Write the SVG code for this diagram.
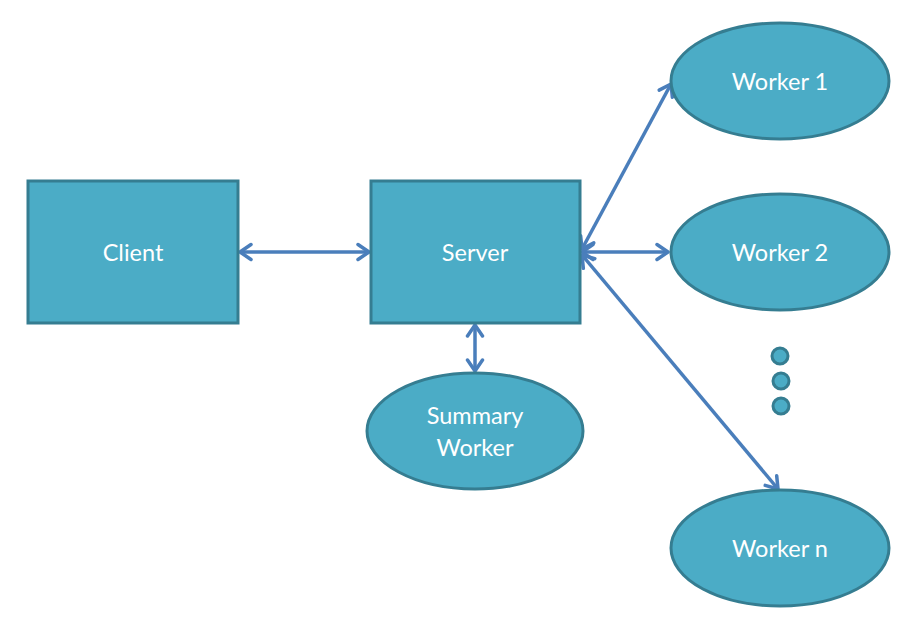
<svg xmlns="http://www.w3.org/2000/svg" width="914" height="624" viewBox="0 0 914 624">
<defs>
<style>
.n{fill:#4bacc6;stroke:#357d91;stroke-width:3}
.t{fill:#fff;font-family:Lato,"Open Sans",sans-serif;font-size:23.5px;text-anchor:middle;dominant-baseline:central}
.c{stroke:#4a7ebb;stroke-width:3.5;fill:none;marker-start:url(#a);marker-end:url(#a)}
</style>
<marker id="a" viewBox="0 0 16 20" refX="14" refY="10" markerWidth="16" markerHeight="20" markerUnits="userSpaceOnUse" orient="auto-start-reverse">
<path d="M3,2.5 L14,10 L3,17.5" fill="none" stroke="#4a7ebb" stroke-width="3.5" stroke-linecap="round" stroke-linejoin="round"/>
</marker>
</defs>
<rect width="914" height="624" fill="#fff"/>
<g id="connectors">
<line class="c" x1="240" y1="252" x2="369" y2="252"/>
<line class="c" x1="582" y1="249" x2="671" y2="84"/>
<line class="c" x1="582" y1="252" x2="668" y2="252"/>
<line class="c" x1="582" y1="255" x2="778" y2="489"/>
<line class="c" x1="475" y1="325" x2="475" y2="371"/>
</g>
<g id="client"><rect class="n" x="28" y="181" width="210" height="142"/><text class="t" x="133" y="252">Client</text></g>
<g id="server"><rect class="n" x="371" y="181" width="209" height="142"/><text class="t" x="475" y="252">Server</text></g>
<g id="worker1"><ellipse class="n" cx="780" cy="81" rx="109" ry="58"/><text class="t" x="780" y="81">Worker 1</text></g>
<g id="worker2"><ellipse class="n" cx="780" cy="252" rx="109" ry="58"/><text class="t" x="780" y="252">Worker 2</text></g>
<g id="workern"><ellipse class="n" cx="780" cy="548" rx="109" ry="58"/><text class="t" x="780" y="548">Worker n</text></g>
<g id="summary"><ellipse class="n" cx="475" cy="431" rx="108" ry="58"/><text class="t" x="475" y="415">Summary</text><text class="t" x="475" y="447">Worker</text></g>
<g id="dots">
<circle class="n" cx="780" cy="356" r="8"/>
<circle class="n" cx="781" cy="381" r="8"/>
<circle class="n" cx="781" cy="406" r="8"/>
</g>
</svg>
